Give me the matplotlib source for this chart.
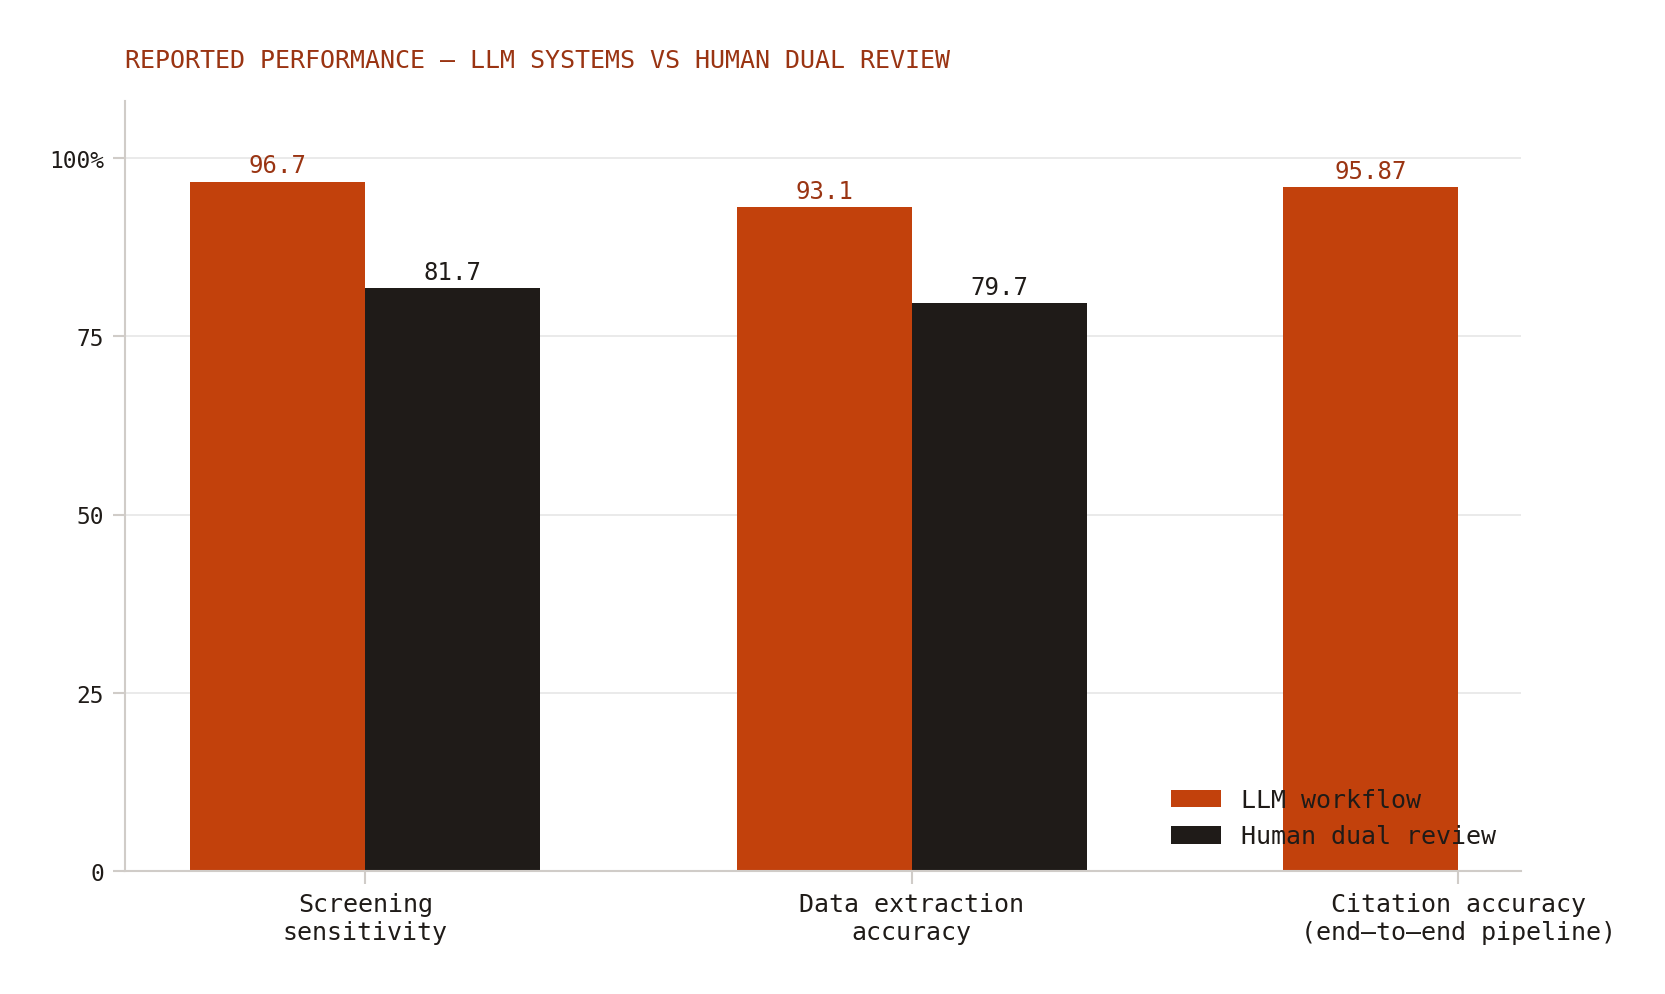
#!/usr/bin/env python3
# -*- coding: utf-8 -*-
import numpy as np
import matplotlib
matplotlib.use("Agg")
import matplotlib.pyplot as plt

# ---------- data ----------
categories = ["Screening\nsensitivity", "Data extraction\naccuracy",
              "Citation accuracy\n(end\u2013to\u2013end pipeline)"]
llm_vals = [96.7, 93.1, 95.87]
human_vals = [81.7, 79.7, np.nan]
llm_labels = ["96.7", "93.1", "95.87"]
human_labels = ["81.7", "79.7", ""]
yticks = [0, 25, 50, 75, 100]
ytick_labels = ["0", "25", "50", "75", "100%"]

ORANGE = "#C2410C"
DARK = "#1F1B18"
TITLE_C = "#9A3412"
SPINE = "#D0CCC8"
GRID = "#E6E6E6"

plt.rcParams["font.family"] = ["DejaVu Sans Mono"]

fig = plt.figure(figsize=(11.1, 6.633), dpi=150)
ax = fig.add_axes([0.075, 0.1236, 0.8385, 0.774])

x = np.arange(len(categories))
w = 0.32
b1 = ax.bar(x - w / 2, llm_vals, w, color=ORANGE, label="LLM workflow", zorder=2)
b2 = ax.bar(x + w / 2, human_vals, w, color=DARK, label="Human dual review", zorder=2)

# value labels above bars
for rect, lab in zip(b1, llm_labels):
    ax.annotate(lab, (rect.get_x() + rect.get_width() / 2, rect.get_height()),
                xytext=(0, 2), textcoords="offset points", ha="center", va="bottom",
                fontsize=11.5, color=TITLE_C)
for rect, lab in zip(b2, human_labels):
    if not lab:
        continue
    ax.annotate(lab, (rect.get_x() + rect.get_width() / 2, rect.get_height()),
                xytext=(0, 2), textcoords="offset points", ha="center", va="bottom",
                fontsize=11.5, color=DARK)

ax.set_xlim(-0.44, 2.115)
ax.set_ylim(0, 108)
ax.set_xticks(x)
ax.set_xticklabels(categories, fontsize=12, color=DARK)
ax.set_yticks(yticks)
ax.set_yticklabels(ytick_labels, fontsize=11, color=DARK)

ax.grid(axis="y", color=GRID, linewidth=0.8, zorder=0)
ax.set_axisbelow(True)
for s in ["top", "right"]:
    ax.spines[s].set_visible(False)
for s in ["left", "bottom"]:
    ax.spines[s].set_color(SPINE)
    ax.spines[s].set_linewidth(1.0)
ax.tick_params(axis="both", color=SPINE, length=6, width=1.0, pad=4)

ax.legend(loc="lower right", frameon=False, fontsize=12, handlelength=2.0,
          handleheight=0.7, borderaxespad=0.5, labelcolor=DARK,
          bbox_to_anchor=(0.998, 0.0))

fig.text(0.075, 0.939, "REPORTED PERFORMANCE \u2014 LLM SYSTEMS VS HUMAN DUAL REVIEW",
         fontsize=12, color=TITLE_C, ha="left", va="center")

fig.savefig("out.png", dpi=150)
